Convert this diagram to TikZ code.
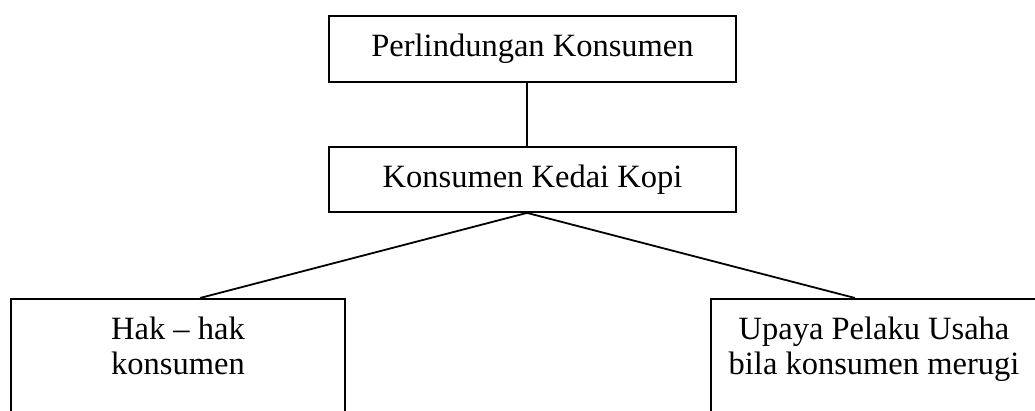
\documentclass[tikz,border=0pt]{standalone}
\usepackage{fontspec}
\setmainfont{Liberation Serif}
\usetikzlibrary{positioning}
\tikzset{
    box/.style={draw, line width=1.8pt, minimum width=407pt, minimum height=66pt, font=\fontsize{32.5}{35}\selectfont},
    leafbox/.style={draw, line width=1.8pt, minimum height=150pt, anchor=north},
    leaftext/.style={align=center, inner sep=0pt, font=\fontsize{32.5}{35}\selectfont},
    link/.style={line width=1.8pt}
}

\begin{document}
\begin{tikzpicture}[x=1pt, y=1pt]
    % Fix the page size
    \useasboundingbox (0,0) rectangle (1035,410);
    \clip (0,0) rectangle (1035,410);

    % Draw the two boxes in the middle column
    \node[box] (perlindungan) at (532.5,361) {Perlindungan Konsumen};
    \node[box, minimum height=65pt] (kedai) at (532.5,230.5) {Konsumen Kedai Kopi};

    % Draw the two boxes at the bottom
    \node[leafbox, minimum width=334pt] (hak) at (178,112) {};
    \node[leaftext, below=19pt of hak.north] (haktext) {Hak – hak\\konsumen};
    \node[leafbox, minimum width=326pt] (upaya) at (874,112) {};
    \node[leaftext, below=19pt of upaya.north] (upayatext) {Upaya Pelaku Usaha\\bila konsumen merugi};

    % Draw the links
    \coordinate (fork) at ([xshift=-5.5pt]kedai.south);
    \draw[link] (perlindungan.south -| fork) -- (kedai.north -| fork);
    \draw[link] (fork) -- ([xshift=22pt]hak.north);
    \draw[link] (fork) -- ([xshift=-19pt]upaya.north);
\end{tikzpicture}
\end{document}
